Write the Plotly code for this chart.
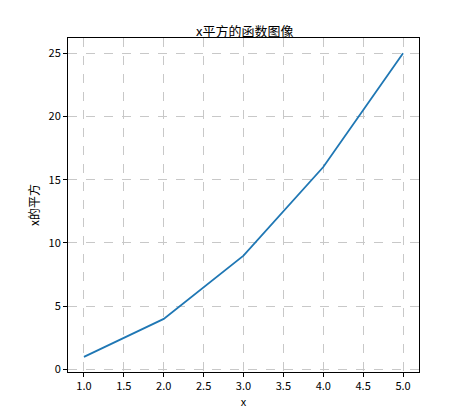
import plotly.graph_objects as go

x_vals = [1, 2, 3, 4, 5]
y_vals = [1, 4, 9, 16, 25]
x_ticks = [1.0, 1.5, 2.0, 2.5, 3.0, 3.5, 4.0, 4.5, 5.0]
y_ticks = [0, 5, 10, 15, 20, 25]

fig = go.Figure(go.Scatter(x=x_vals, y=y_vals, mode="lines",
                           line=dict(color="#1f77b4", width=1.8)))
font = "Noto Sans CJK SC, DejaVu Sans"
ax = dict(showline=True, linecolor="black", linewidth=1, mirror=True,
          ticks="outside", ticklen=4, tickcolor="black",
          showgrid=True, gridcolor="#c8c8c8", griddash="dash", gridwidth=1,
          zeroline=False, tickfont=dict(size=11, color="black"))
fig.update_layout(
    width=451, height=409, paper_bgcolor="white", plot_bgcolor="white",
    margin=dict(l=60, r=40, t=30, b=39), showlegend=False,
    font=dict(family=font, color="black", size=12),
    title=dict(text="x平方的函数图像", x=0.525, xanchor="center", y=0.955,
               font=dict(size=13)),
)
fig.update_xaxes(**ax, range=[0.8, 5.2], tickvals=x_ticks,
                 ticktext=[f"{v:.1f}" for v in x_ticks],
                 title=dict(text="x", standoff=4, font=dict(size=11)))
fig.update_yaxes(**ax, range=[-0.2, 26.2], tickvals=y_ticks,
                 title=dict(text="x的平方", standoff=6, font=dict(size=12)))
fig.write_html("out.html")
